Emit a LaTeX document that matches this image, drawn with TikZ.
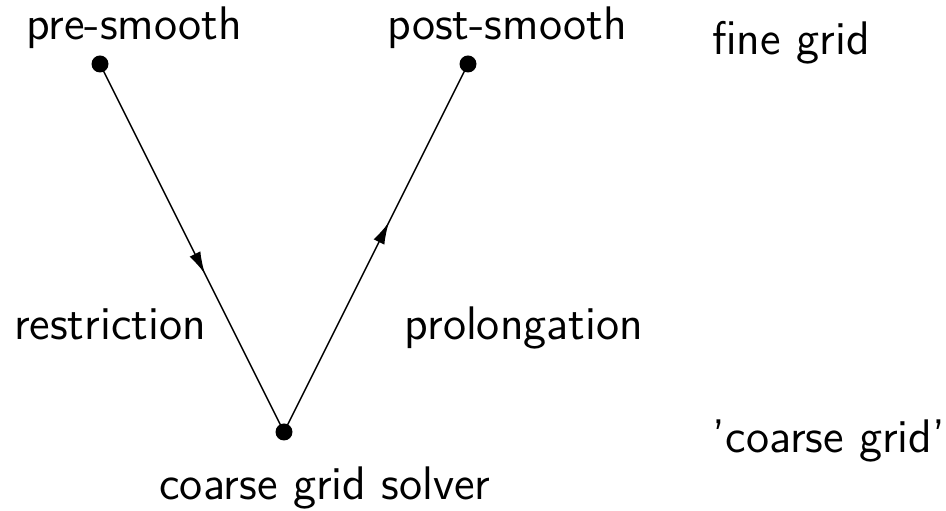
\documentclass[tikz,border=0pt]{standalone}
\usepackage{tikz}
\usetikzlibrary{arrows.meta, decorations.markings}

\begin{document}
\begin{tikzpicture}[
    every node/.style={font=\sffamily\fontsize{13.4}{15}\selectfont},
    dot/.style={circle, fill, inner sep=0pt, minimum size=0.17cm},
    label/.style={anchor=base},
    midarrow/.style={postaction={decorate},
      decoration={markings, mark=at position 0.57 with {\arrow{Latex[length=0.22cm, width=0.12cm]}}}}
  ]
  \useasboundingbox (0, 0) rectangle (9.46, 5.11);
  % levels of the V-cycle
  \node[dot] (fine1) at (1.00, 4.47) {};
  \node[dot] (fine2) at (4.68, 4.47) {};
  \node[dot] (coarse) at (2.84, 0.79) {};
  \node[label] (pre) at (1.34, 4.71) {pre-smooth};
  \node[label] (post) at (5.07, 4.71) {post-smooth};
  \node[label] (fine) at (7.91, 4.56) {fine grid};
  \node[label] (restr) at (1.10, 1.71) {restriction};
  \node[label] (prolong) at (5.24, 1.71) {prolongation};
  \node[label] (coarselvl) at (8.29, 0.58) {'coarse grid'};
  \node[label] (solver) at (3.25, 0.11) {coarse grid solver};
  % transfers
  \draw[midarrow] (fine1.center) -- (coarse.center);
  \draw[midarrow] (coarse.center) -- (fine2.center);
\end{tikzpicture}
\end{document}
